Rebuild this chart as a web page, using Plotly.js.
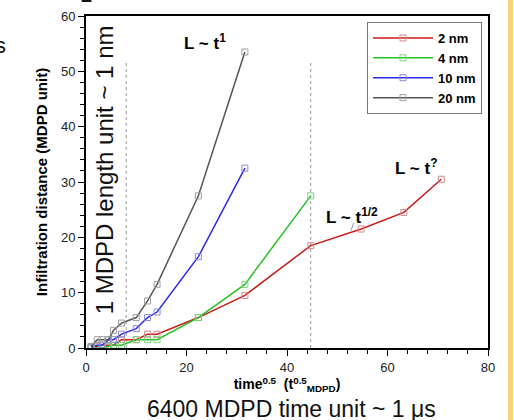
<!DOCTYPE html>
<html>
<head>
<meta charset="utf-8">
<script src="https://cdn.plot.ly/plotly-3.0.1.min.js"></script>
<style>html,body{margin:0;padding:0;background:#fff;}#chart{width:514px;height:420px;}</style>
</head>
<body>
<div id="chart"></div>
<script>
// sqrt(time) values shared by the series
const timeSqrt = [1, 2.24, 3.16, 4.47, 5.48, 7.07, 10, 12.25, 14.14, 22.36, 31.62, 44.72, 54.77, 63.25, 70.71];
const seriesNames = ["2 nm", "4 nm", "10 nm", "20 nm"];
const dist2nm  = [0, 0.3, 0.5, 0.5, 0.5, 1.5, 1.5, 2.5, 2.5, 5.5, 9.5, 18.5, 21.5, 24.5, 30.5];
const dist4nm  = [0, 0, 0, 0.3, 0.5, 0.5, 1.5, 1.5, 1.5, 5.5, 11.5, 27.5];
const dist10nm = [0.2, 0.5, 0.5, 1.5, 1.5, 2.5, 3.5, 5.5, 6.5, 16.5, 32.5];
const dist20nm = [0.3, 1.5, 1.5, 1.5, 3.2, 4.5, 5.5, 8.5, 11.5, 27.5, 53.5];
const refLineX = [8, 44.72];
const refLineTop = 52;
const xTickVals = [0, 20, 40, 60, 80];
const yTickVals = [0, 10, 20, 30, 40, 50, 60];

const lineColors = ["#cc1a1a", "#22c322", "#2a2aee", "#555555"];
const markerColors = ["#d88a8a", "#7fd07f", "#8a8ad8", "#a0a0a0"];
const allY = [dist2nm, dist4nm, dist10nm, dist20nm];

const traces = allY.map((ys, i) => ({
  x: timeSqrt.slice(0, ys.length),
  y: ys,
  name: seriesNames[i],
  type: "scatter",
  mode: "lines+markers",
  line: {color: lineColors[i], width: 1.5},
  marker: {symbol: "square-open", size: 6, color: markerColors[i], line: {width: 1, color: markerColors[i]}}
}));

const shapes = refLineX.map(xv => ({
  type: "line", xref: "x", yref: "y", x0: xv, x1: xv, y0: 0, y1: refLineTop,
  line: {color: "#999", width: 1, dash: "3px,3px"}, layer: "below"
}));
shapes.push({type: "line", xref: "x", yref: "y", x0: 53.3, y0: 22.6, x1: 52.7, y1: 21.2, line: {color: "#999", width: 1}});
shapes.push({type: "rect", xref: "paper", yref: "paper", x0: 1.0498, x1: 1.0622, y0: -0.25, y1: 1.1,
  fillcolor: "#ffd27a", line: {width: 0}, layer: "below"});

const ff = "Arial, Liberation Sans, sans-serif";
const bold = {family: ff, size: 17, color: "#000"};
const annotations = [
  {x: 23.7, y: 55.3, xref: "x", yref: "y", xanchor: "center", yanchor: "middle", text: "<b>L ~ t<sup>1</sup></b>", showarrow: false, font: bold},
  {x: 65.7, y: 32.7, xref: "x", yref: "y", xanchor: "center", yanchor: "middle", text: "<b>L ~ t<sup>?</sup></b>", showarrow: false, font: bold},
  {x: 52.9, y: 23.8, xref: "x", yref: "y", xanchor: "center", yanchor: "middle", text: "<b>L ~ t<sup>1/2</sup></b>", showarrow: false, font: bold},
  {x: 0.51, y: -0.183, xref: "paper", yref: "paper", xanchor: "center", yanchor: "middle", text: "6400 MDPD time unit ~ 1 μs", showarrow: false,
   font: {family: ff, size: 23, color: "#111"}},
  {x: 0.0455, y: 0.536, xref: "paper", yref: "paper", xanchor: "center", yanchor: "middle", text: "1 MDPD length unit ~ 1 nm", textangle: -90, showarrow: false,
   font: {family: ff, size: 24, color: "#111"}},
  {x: -0.194, y: 0.91, xref: "paper", yref: "paper", xanchor: "right", yanchor: "middle", text: "s", showarrow: false,
   font: {family: ff, size: 22, color: "#111"}},
  {x: 0.0, y: 1.024, xref: "paper", yref: "paper", xanchor: "center", yanchor: "bottom", text: "<b>2</b>", showarrow: false,
   font: {family: ff, size: 20, color: "#111"}}
];

const tickFont = {family: ff, size: 13, color: "#222"};
const layout = {
  width: 514, height: 420,
  margin: {l: 86, r: 26, t: 16, b: 72, pad: 0},
  paper_bgcolor: "#fff", plot_bgcolor: "#fff",
  showlegend: true,
  legend: {x: 0.699, y: 0.982, xanchor: "left", yanchor: "top", bordercolor: "#777", borderwidth: 1,
    bgcolor: "#fff", font: {family: ff, size: 13, color: "#000", weight: "bold"},
    tracegroupgap: 0, itemwidth: 60},
  xaxis: {
    range: [0, 80], tickvals: xTickVals, ticks: "outside", ticklen: 6, tickwidth: 1, tickcolor: "#000",
    showline: true, linewidth: 2, linecolor: "#000", mirror: true, showgrid: false, zeroline: false,
    tickfont: tickFont,
    minor: {dtick: 4, ticklen: 4, tickcolor: "#000", ticks: "outside", showgrid: false},
    title: {text: "<b>time<sup>0.5</sup>  (t<sup>0.5</sup><sub>MDPD</sub>)</b>", standoff: 1,
      font: {family: ff, size: 14, color: "#000"}}
  },
  yaxis: {
    range: [0, 60], tickvals: yTickVals, ticks: "outside", ticklen: 6, tickwidth: 1, tickcolor: "#000",
    showline: true, linewidth: 2, linecolor: "#000", mirror: true, showgrid: false, zeroline: false,
    tickfont: tickFont,
    minor: {dtick: 2, ticklen: 4, tickcolor: "#000", ticks: "outside", showgrid: false},
    title: {text: "<b>Infiltration distance (MDPD unit)</b>", standoff: 10,
      font: {family: ff, size: 15, color: "#000"}}
  },
  shapes: shapes,
  annotations: annotations
};

Plotly.newPlot("chart", traces, layout, {staticPlot: true, displayModeBar: false});
</script>
</body>
</html>
